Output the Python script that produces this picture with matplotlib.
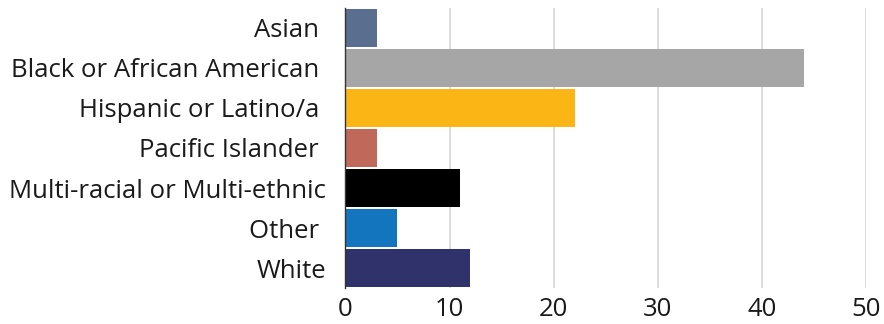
import matplotlib
matplotlib.use("Agg")
import matplotlib.pyplot as plt

categories = ["Asian ", "Black or African American ", "Hispanic or Latino/a ",
              "Pacific Islander ", "Multi-racial or Multi-ethnic", "Other ", "White"]
values = [3, 44, 22, 3, 11, 5, 12]
colors = ["#5a6e8f", "#a6a6a6", "#fbb515", "#c0695a", "#000000", "#1475bf", "#30336b"]
xticks = [0, 10, 20, 30, 40, 50]

plt.rcParams['font.family'] = ['Open Sans', 'DejaVu Sans']

fig = plt.figure(figsize=(8.84, 3.24), dpi=100)
ax = fig.add_axes([345.3/884, 35.6/324, 521/884, 280.9/324])

y = list(range(len(categories)))
ax.barh(y, values, height=0.947, color=colors, zorder=3)
ax.set_ylim(len(categories) - 0.5, -0.5)
ax.set_xlim(0, 50)
ax.set_xticks(xticks)
ax.set_xticklabels([str(t) for t in xticks])
ax.set_yticks(y)
ax.set_yticklabels(categories)
ax.tick_params(axis='both', length=0, labelsize=18.5, colors='#1a1a1a')
ax.tick_params(axis='x', pad=6)
ax.tick_params(axis='y', pad=14)
ax.grid(axis='x', color='#d9d9d9', linewidth=1.3, zorder=0)
for s in ['top', 'right', 'bottom']:
    ax.spines[s].set_visible(False)
ax.spines['left'].set_color('#333333')
ax.spines['left'].set_linewidth(1.0)
ax.spines['left'].set_zorder(4)

fig.savefig("out.png", dpi=100)
